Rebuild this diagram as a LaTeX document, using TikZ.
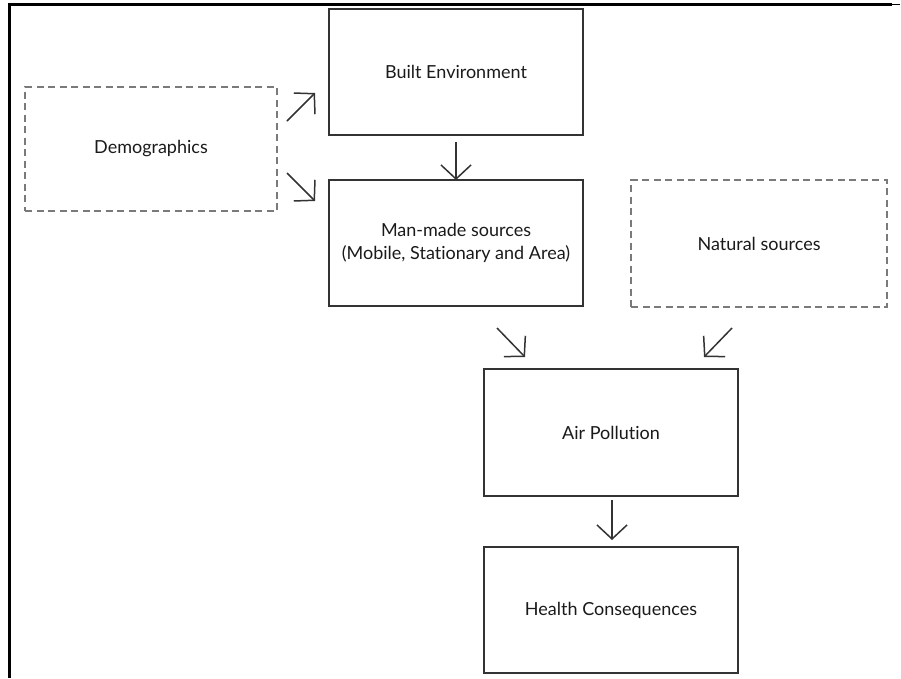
\documentclass[tikz,border=0pt]{standalone}
\usepackage{fontspec}
\setmainfont[Ligatures={NoCommon}]{Lato}
\usetikzlibrary{arrows.meta}
\definecolor{boxline}{HTML}{333333}
\definecolor{dashline}{HTML}{7A7A7A}
\definecolor{txt}{HTML}{1A1A1A}
\begin{document}
\begin{tikzpicture}[x=1pt,y=-1pt,
  solidbox/.style={draw=boxline, line width=1.8pt, rectangle, minimum width=254pt, minimum height=126pt, inner sep=0pt, align=center, text=txt, font=\fontsize{18}{23}\selectfont},
  dashbox/.style={solidbox, draw=dashline, line width=1.4pt, dash pattern=on 7pt off 4.5pt},
  flow/.style={draw=boxline, line width=1.5pt, -{Straight Barb[length=14pt,width=30pt,line width=1.5pt]}}]
\useasboundingbox (0,0) rectangle (901,678);
% outer frame lines
\draw[line width=3pt] (8,4) -- (892,4);
\draw[line width=1.5pt] (892,4.5) -- (900,4.5);
\draw[line width=2.5pt] (9.5,3) -- (9.5,678);
% boxes
\node[solidbox] (built) at (456,72) {Built Environment};
\node[solidbox] (man) at (456,243) {Man-made sources\\(Mobile, Stationary and Area)};
\node[dashbox, minimum width=252pt, minimum height=124pt] (demo) at (151,149) {Demographics};
\node[dashbox, minimum width=256pt, minimum height=127pt] (nat) at (759,243.5) {Natural sources};
\node[solidbox, minimum height=127pt] (air) at (611,432.5) {Air Pollution};
\node[solidbox] (health) at (611,610) {Health Consequences};
% arrow endpoints
\coordinate (d1s) at (287,121); \coordinate (d1e) at (315,93);
\coordinate (d2s) at (287,173); \coordinate (d2e) at (315,201);
\coordinate (bms) at (456,142); \coordinate (bme) at (456,180);
\coordinate (mas) at (497,328); \coordinate (mae) at (525,357);
\coordinate (nas) at (732,328); \coordinate (nae) at (704,357);
\coordinate (ahs) at (612,500); \coordinate (ahe) at (612,540);
\draw[flow] (d1s) -- (d1e);
\draw[flow] (d2s) -- (d2e);
\draw[flow] (bms) -- (bme);
\draw[flow] (mas) -- (mae);
\draw[flow] (nas) -- (nae);
\draw[flow] (ahs) -- (ahe);
\end{tikzpicture}
\end{document}
